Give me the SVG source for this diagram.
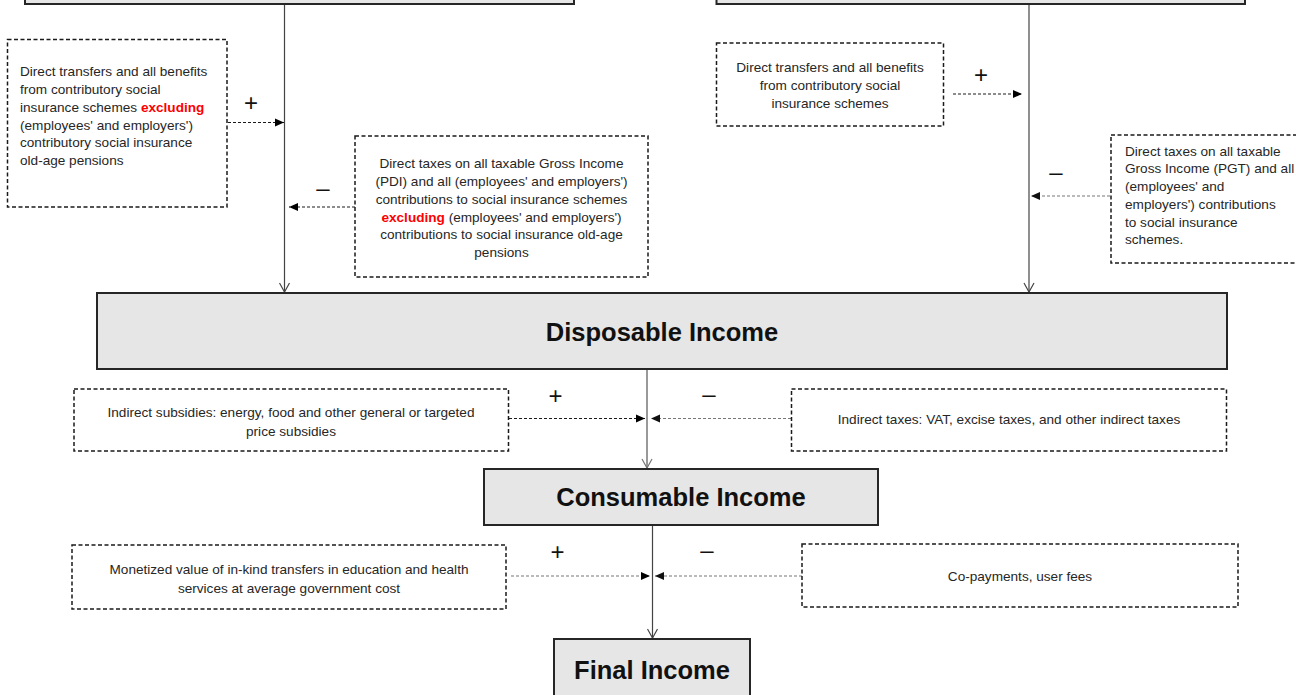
<svg xmlns="http://www.w3.org/2000/svg" width="1296" height="695" viewBox="0 0 1296 695">
  <style>
    .main { fill: #e6e6e6; stroke: #262626; stroke-width: 2; }
    .dbox { fill: #ffffff; stroke: #1a1a1a; stroke-width: 1.5; stroke-dasharray: 4 2.5; }
    .t { font-family: "Liberation Sans", Arial, sans-serif; font-size: 13.6px; fill: #262626; }
    .c { text-anchor: middle; }
    .red { fill: #ff0000; font-weight: bold; }
    .title { font-family: "Liberation Sans", Arial, sans-serif; font-size: 25.5px; font-weight: bold; fill: #111111; text-anchor: middle; }
    .sign { font-family: "Liberation Sans", Arial, sans-serif; font-size: 24px; fill: #111111; text-anchor: middle; }
    .flow { stroke: #444444; stroke-width: 1.2; fill: none; }
    .flowg { stroke: #999999; stroke-width: 2; fill: none; }
    .dash { stroke: #1a1a1a; stroke-width: 1; stroke-dasharray: 3 2; fill: none; }
    .dashg { stroke: #777777; stroke-width: 1.2; stroke-dasharray: 3 2; fill: none; }
  </style>
  <defs>
    <marker id="openV" markerWidth="12" markerHeight="12" refX="10" refY="6" orient="auto" markerUnits="userSpaceOnUse" viewBox="0 0 12 12">
      <path d="M1,1 L10,6 L1,11" fill="none" stroke="#444444" stroke-width="1.2"/>
    </marker>
    <marker id="openVg" markerWidth="12" markerHeight="12" refX="10" refY="6" orient="auto" markerUnits="userSpaceOnUse" viewBox="0 0 12 12">
      <path d="M1,1 L10,6 L1,11" fill="none" stroke="#777777" stroke-width="1.2"/>
    </marker>
    <marker id="tri" markerWidth="10" markerHeight="10" refX="9" refY="5" orient="auto" markerUnits="userSpaceOnUse" viewBox="0 0 10 10">
      <path d="M0,1 L9,5 L0,9 Z" fill="#000000"/>
    </marker>
    <marker id="trig" markerWidth="10" markerHeight="10" refX="9" refY="5" orient="auto" markerUnits="userSpaceOnUse" viewBox="0 0 10 10">
      <path d="M0,1 L9,5 L0,9 Z" fill="#111111"/>
    </marker>
  </defs>

  <rect width="1296" height="695" fill="#ffffff"/>

  <!-- connectors -->
  <g id="connectors">
    <line class="flow" x1="284.5" y1="4" x2="284.5" y2="292" marker-end="url(#openV)"/>
    <line class="flow" x1="1029" y1="4" x2="1029" y2="292" marker-end="url(#openV)"/>
    <line class="flowg" x1="647" y1="369" x2="647" y2="468" marker-end="url(#openVg)"/>
    <line class="flow" x1="652.5" y1="525" x2="652.5" y2="638" marker-end="url(#openV)"/>

    <line class="dash" x1="228" y1="122.5" x2="284" y2="122.5" marker-end="url(#tri)"/>
    <line class="dash" x1="355" y1="207" x2="289" y2="207" marker-end="url(#tri)"/>
    <line class="dash" x1="953" y1="94" x2="1022" y2="94" marker-end="url(#tri)"/>
    <line class="dashg" x1="1110" y1="196" x2="1031" y2="196" marker-end="url(#trig)"/>
    <line class="dash" x1="509" y1="418.5" x2="645" y2="418.5" marker-end="url(#tri)"/>
    <line class="dashg" x1="791" y1="418.5" x2="651" y2="418.5" marker-end="url(#trig)"/>
    <line class="dashg" x1="511" y1="576" x2="650" y2="576" marker-end="url(#tri)"/>
    <line class="dashg" x1="802" y1="576" x2="655" y2="576" marker-end="url(#trig)"/>

    <text class="sign" x="251" y="111">+</text>
    <text class="sign" x="323" y="196">–</text>
    <text class="sign" x="981" y="83">+</text>
    <text class="sign" x="1056" y="180">–</text>
    <text class="sign" x="555.5" y="404">+</text>
    <text class="sign" x="709" y="402">–</text>
    <text class="sign" x="557.5" y="560">+</text>
    <text class="sign" x="707" y="558">–</text>
  </g>

  <!-- top boxes (partly off-canvas) -->
  <g id="top-left-box">
    <rect class="main" x="25" y="-40" width="549" height="44"/>
  </g>
  <g id="top-right-box">
    <rect class="main" x="716.5" y="-40" width="528.5" height="44"/>
  </g>

  <g id="benefits-left">
    <rect class="dbox" x="7.5" y="39.5" width="219.5" height="167.5"/>
    <text class="t" x="20" y="76">Direct transfers and all benefits</text>
    <text class="t" x="20" y="94">from contributory social</text>
    <text class="t" x="20" y="112">insurance schemes <tspan class="red">excluding</tspan></text>
    <text class="t" x="20" y="130">(employees' and employers')</text>
    <text class="t" x="20" y="147">contributory social insurance</text>
    <text class="t" x="20" y="165">old-age pensions</text>
  </g>

  <g id="taxes-left">
    <rect class="dbox" x="355" y="136" width="293" height="141"/>
    <text class="t c" x="501.5" y="168">Direct taxes on all taxable Gross Income</text>
    <text class="t c" x="501.5" y="186">(PDI) and all (employees' and employers')</text>
    <text class="t c" x="501.5" y="204">contributions to social insurance schemes</text>
    <text class="t c" x="501.5" y="222"><tspan class="red">excluding</tspan> (employees' and employers')</text>
    <text class="t c" x="501.5" y="239">contributions to social insurance old-age</text>
    <text class="t c" x="501.5" y="257">pensions</text>
  </g>

  <g id="benefits-right">
    <rect class="dbox" x="716.5" y="43" width="227" height="83"/>
    <text class="t c" x="830" y="72">Direct transfers and all benefits</text>
    <text class="t c" x="830" y="90">from contributory social</text>
    <text class="t c" x="830" y="108">insurance schemes</text>
  </g>

  <g id="taxes-right">
    <rect class="dbox" x="1111" y="135" width="200" height="128"/>
    <text class="t" x="1125" y="156">Direct taxes on all taxable</text>
    <text class="t" x="1125" y="173">Gross Income (PGT) and all</text>
    <text class="t" x="1125" y="191">(employees' and</text>
    <text class="t" x="1125" y="209">employers') contributions</text>
    <text class="t" x="1125" y="227">to social insurance</text>
    <text class="t" x="1125" y="244">schemes.</text>
  </g>

  <g id="disposable-income">
    <rect class="main" x="97" y="293" width="1130" height="76"/>
    <text class="title" x="662" y="341">Disposable Income</text>
  </g>

  <g id="indirect-subsidies">
    <rect class="dbox" x="74" y="389" width="434.5" height="62"/>
    <text class="t c" x="291" y="416.5">Indirect subsidies: energy, food and other general or targeted</text>
    <text class="t c" x="291" y="435.5">price subsidies</text>
  </g>

  <g id="indirect-taxes">
    <rect class="dbox" x="791.5" y="389" width="435" height="62"/>
    <text class="t c" x="1009" y="424">Indirect taxes: VAT, excise taxes, and other indirect taxes</text>
  </g>

  <g id="consumable-income">
    <rect class="main" x="484" y="469" width="394" height="56"/>
    <text class="title" x="681" y="506">Consumable Income</text>
  </g>

  <g id="inkind-transfers">
    <rect class="dbox" x="72" y="545" width="434" height="64"/>
    <text class="t c" x="289" y="573.5">Monetized value of in-kind transfers in education and health</text>
    <text class="t c" x="289" y="592.5">services at average government cost</text>
  </g>

  <g id="copayments">
    <rect class="dbox" x="802" y="544" width="436" height="63"/>
    <text class="t c" x="1020" y="580.5">Co-payments, user fees</text>
  </g>

  <g id="final-income">
    <rect class="main" x="554" y="639" width="196" height="70"/>
    <text class="title" x="652" y="679">Final Income</text>
  </g>
</svg>
